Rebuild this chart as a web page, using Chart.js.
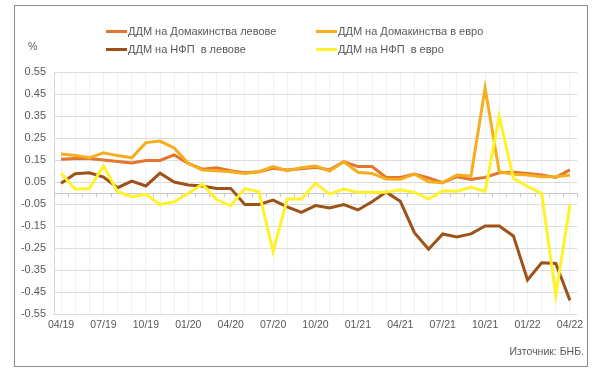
<!DOCTYPE html>
<html>
<head>
<meta charset="utf-8">
<script src="https://cdn.jsdelivr.net/npm/chart.js@4/dist/chart.umd.min.js"></script>
<style>
	body { margin: 0; width: 592px; height: 371px; background: #fff; overflow: hidden; font-family: "Liberation Sans", Arial, sans-serif; }
	#frame { position: absolute; left: 14px; top: 5px; width: 572px; height: 360px; border: 1px solid #8c8c8c; }
	#chart { position: absolute; left: 0; top: 0; }
	.leg { position: absolute; font-size: 11px; color: #595959; white-space: nowrap; line-height: 14px; }
	.sw { display: inline-block; width: 21px; height: 3px; vertical-align: middle; margin-right: 1px; position: relative; top: -1px; }
	#pct { position: absolute; left: 28px; top: 40px; font-size: 10.5px; color: #595959; }
	#src { position: absolute; right: 8px; top: 345px; font-size: 10.5px; color: #595959; }
</style>
</head>
<body>
<div id="frame"></div>
<canvas id="chart" width="592" height="371"></canvas>
<div id="legend"></div>
<div id="pct">%</div>
<div id="src">Източник: БНБ.</div>
<script>
const months = ["04/19", "05/19", "06/19", "07/19", "08/19", "09/19", "10/19", "11/19", "12/19",
	"01/20", "02/20", "03/20", "04/20", "05/20", "06/20", "07/20", "08/20", "09/20", "10/20", "11/20", "12/20",
	"01/21", "02/21", "03/21", "04/21", "05/21", "06/21", "07/21", "08/21", "09/21", "10/21", "11/21", "12/21",
	"01/22", "02/22", "03/22", "04/22"];

// ДДМ на Домакинства левове
const hhBgn = [0.153, 0.157, 0.157, 0.150, 0.143, 0.136, 0.148, 0.148, 0.173, 0.135,
	0.108, 0.115, 0.101, 0.092, 0.097, 0.112, 0.105, 0.110, 0.117, 0.105,
	0.142, 0.120, 0.120, 0.071, 0.071, 0.086, 0.068, 0.047, 0.074, 0.062,
	0.071, 0.092, 0.094, 0.089, 0.082, 0.071, 0.105];
// ДДМ на Домакинства в евро
const hhEur = [0.177, 0.170, 0.160, 0.183, 0.170, 0.160, 0.229, 0.236, 0.205, 0.135,
	0.105, 0.101, 0.097, 0.089, 0.097, 0.120, 0.101, 0.115, 0.123, 0.100,
	0.142, 0.094, 0.089, 0.064, 0.062, 0.086, 0.051, 0.047, 0.082, 0.077,
	0.477, 0.097, 0.085, 0.082, 0.074, 0.074, 0.082];
// ДДМ на НФП в левове
const nfcBgn = [0.044, 0.088, 0.092, 0.072, 0.024, 0.054, 0.032, 0.090, 0.050, 0.036,
	0.032, 0.021, 0.021, -0.052, -0.052, -0.032, -0.063, -0.088, -0.057, -0.068,
	-0.053, -0.077, -0.040, 0.004, -0.038, -0.180, -0.256, -0.186, -0.200, -0.186,
	-0.150, -0.150, -0.195, -0.395, -0.317, -0.320, -0.488];
// ДДМ на НФП в евро
const nfcEur = [0.090, 0.017, 0.020, 0.123, 0.006, -0.017, -0.006, -0.052, -0.040, -0.002,
	0.040, -0.030, -0.058, 0.020, 0.006, -0.267, -0.027, -0.027, 0.044, -0.005,
	0.018, 0.003, 0.003, 0.003, 0.015, 0.003, -0.028, 0.010, 0.008, 0.026,
	0.008, 0.348, 0.067, 0.030, -0.002, -0.464, -0.055];

const yTicks = [-0.55, -0.45, -0.35, -0.25, -0.15, -0.05, 0.05, 0.15, 0.25, 0.35, 0.45, 0.55];

const series = [
	{ label: "ДДМ на Домакинства левове", data: hhBgn, color: "#E2762D", order: 4 },
	{ label: "ДДМ на Домакинства в евро", data: hhEur, color: "#F6AE1E", order: 3 },
	{ label: "ДДМ на НФП  в левове", data: nfcBgn, color: "#9E5218", order: 2 },
	{ label: "ДДМ на НФП  в евро", data: nfcEur, color: "#FFF22A", order: 1 }
];

// legend in two columns, like the original
const legPos = [[106, 24], [316, 24], [106, 42], [316, 42]];
const legend = document.getElementById("legend");
series.forEach((s, i) => {
	const d = document.createElement("div");
	d.className = "leg";
	d.style.left = legPos[i][0] + "px";
	d.style.top = legPos[i][1] + "px";
	d.innerHTML = '<span class="sw" style="background:' + s.color + '"></span>' + s.label.replace(/ /g, "&nbsp;");
	legend.appendChild(d);
});

// small tick marks on the zero line
const zeroTicks = {
	id: "zeroTicks",
	beforeDatasetsDraw(chart) {
		const x = chart.scales.x, y = chart.scales.y;
		const ctx = chart.ctx;
		const y0 = y.getPixelForValue(0);
		const step = x.getPixelForValue(1) - x.getPixelForValue(0);
		ctx.save();
		ctx.strokeStyle = "#c8c8c8";
		ctx.lineWidth = 1;
		ctx.beginPath();
		ctx.moveTo(chart.chartArea.left, Math.round(y0) + 0.5);
		ctx.lineTo(chart.chartArea.right, Math.round(y0) + 0.5);
		for (let i = 0; i <= months.length; i++) {
			const px = Math.round(x.getPixelForValue(i) - step / 2) + 0.5;
			ctx.moveTo(px, Math.round(y0));
			ctx.lineTo(px, Math.round(y0) + 4);
		}
		ctx.stroke();
		ctx.restore();
	}
};

new Chart(document.getElementById("chart"), {
	type: "line",
	data: {
		labels: months,
		datasets: series.map(s => ({
			label: s.label,
			data: s.data,
			borderColor: s.color,
			backgroundColor: s.color,
			borderWidth: 3,
			pointRadius: 0,
			tension: 0,
			fill: false,
			order: s.order
		}))
	},
	options: {
		responsive: false,
		devicePixelRatio: 1,
		animation: false,
		layout: { padding: { left: 14, right: 15, top: 72, bottom: 35 } },
		plugins: { legend: { display: false }, tooltip: { enabled: false } },
		scales: {
			x: {
				offset: true,
				grid: { color: "#eef0f4", drawTicks: false },
				border: { display: false },
				afterFit: s => { s.height = 22; },
				ticks: {
					autoSkip: false,
					maxRotation: 0,
					padding: 5,
					color: "#595959",
					font: { family: "Liberation Sans", size: 10.5 },
					callback: (v, i) => i % 3 === 0 ? months[i] : ""
				}
			},
			y: {
				min: -0.55,
				max: 0.55,
				afterBuildTicks: s => { s.ticks = yTicks.map(v => ({ value: v })); },
				afterFit: s => { s.width = 40; },
				grid: { color: "#dcdcdc", drawTicks: false },
				border: { display: true, color: "#d6d6d6" },
				ticks: {
					padding: 8,
					color: "#595959",
					font: { family: "Liberation Sans", size: 11 },
					callback: v => v.toFixed(2)
				}
			}
		}
	},
	plugins: [zeroTicks]
});
</script>
</body>
</html>
